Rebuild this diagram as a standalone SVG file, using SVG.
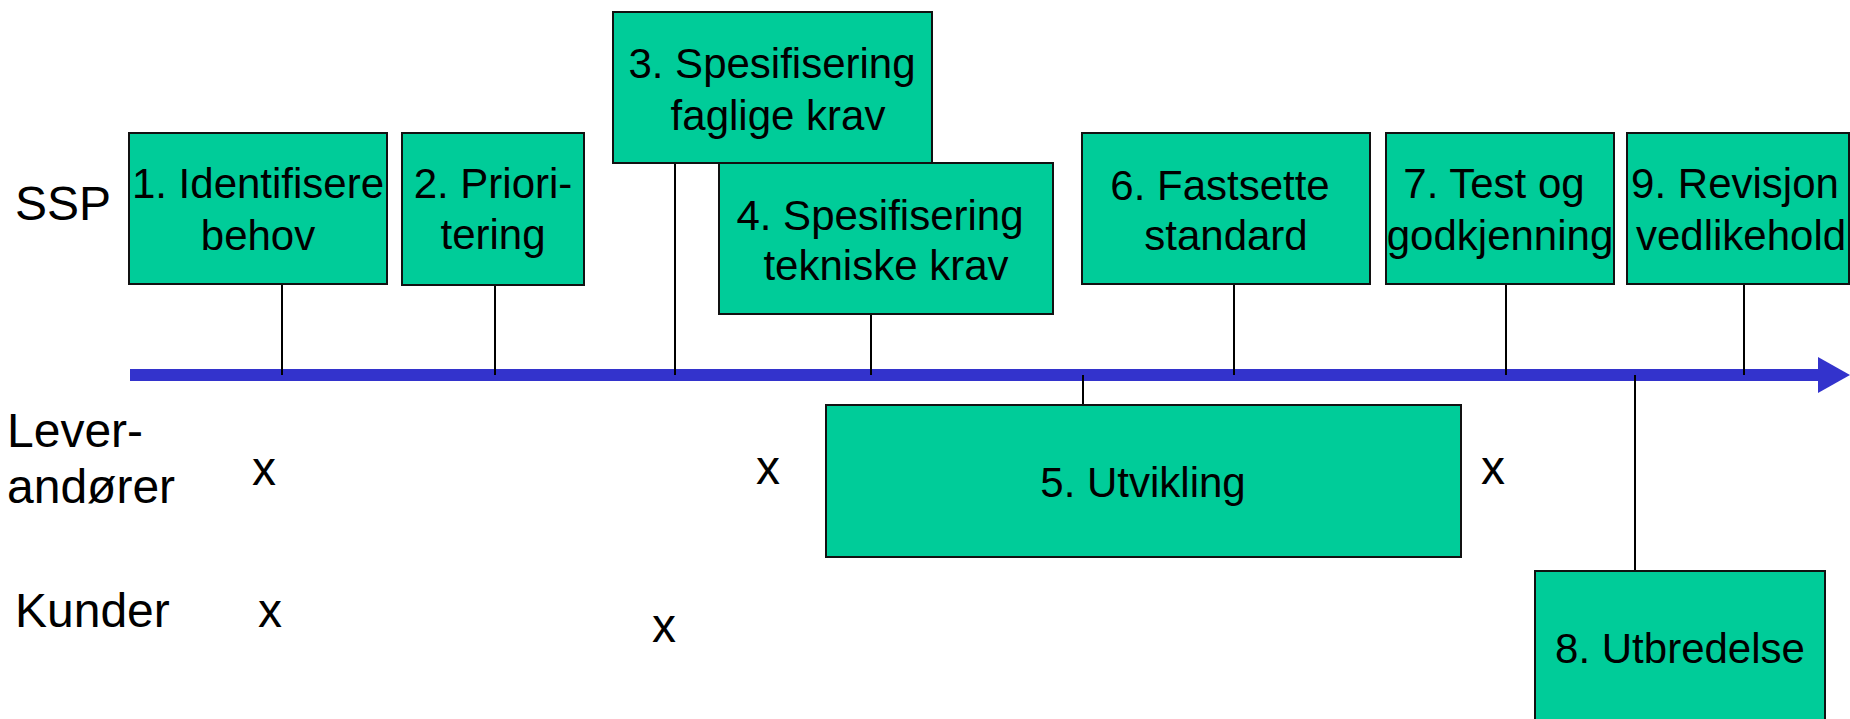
<svg xmlns="http://www.w3.org/2000/svg" width="1850" height="719" viewBox="0 0 1850 719">
<style>
text{font-family:"Liberation Sans",Arial,sans-serif;fill:#000}
.bt{font-size:42px;text-anchor:middle}
.lb{font-size:48px}
.box{fill:#00CC99;stroke:#111;stroke-width:2}
.con{stroke:#000;stroke-width:2;fill:none}
</style>
<rect width="1850" height="719" fill="#fff"/>
<g id="timeline">
<line x1="130" y1="375" x2="1820" y2="375" stroke="#3333CC" stroke-width="12"/>
<polygon points="1818,357 1850,375 1818,393" fill="#3333CC"/>
</g>
<g id="connectors">
<line class="con" x1="282" y1="284" x2="282" y2="375"/>
<line class="con" x1="495" y1="285" x2="495" y2="375"/>
<line class="con" x1="675" y1="163" x2="675" y2="375"/>
<line class="con" x1="871" y1="314" x2="871" y2="375"/>
<line class="con" x1="1083" y1="375" x2="1083" y2="405"/>
<line class="con" x1="1234" y1="284" x2="1234" y2="375"/>
<line class="con" x1="1506" y1="284" x2="1506" y2="375"/>
<line class="con" x1="1635" y1="375" x2="1635" y2="571"/>
<line class="con" x1="1744" y1="284" x2="1744" y2="375"/>
</g>
<g id="labels">
<text class="lb" x="15" y="220">SSP</text>
<text class="lb" x="7" y="447">Lever-</text>
<text class="lb" x="7" y="503">andører</text>
<text class="lb" x="15" y="627">Kunder</text>
</g>
<g id="marks">
<text class="lb" x="252" y="485">x</text>
<text class="lb" x="258" y="627">x</text>
<text class="lb" x="756" y="484">x</text>
<text class="lb" x="652" y="642">x</text>
<text class="lb" x="1481" y="484">x</text>
</g>
<g id="n1">
<rect class="box" x="129" y="133" width="258" height="151"/>
<text class="bt" x="258" y="198">1. Identifisere</text>
<text class="bt" x="258" y="250">behov</text>
</g>
<g id="n2">
<rect class="box" x="402" y="133" width="182" height="152"/>
<text class="bt" x="493" y="198">2. Priori-</text>
<text class="bt" x="493" y="249">tering</text>
</g>
<g id="n3">
<rect class="box" x="613" y="12" width="319" height="151"/>
<text class="bt" x="772" y="78">3. Spesifisering</text>
<text class="bt" x="778" y="130">faglige krav</text>
</g>
<g id="n4">
<rect class="box" x="719" y="163" width="334" height="151"/>
<text class="bt" x="880" y="230">4. Spesifisering</text>
<text class="bt" x="886" y="280">tekniske krav</text>
</g>
<g id="n5">
<rect class="box" x="826" y="405" width="635" height="152"/>
<text class="bt" x="1143" y="497">5. Utvikling</text>
</g>
<g id="n6">
<rect class="box" x="1082" y="133" width="288" height="151"/>
<text class="bt" x="1220" y="200">6. Fastsette</text>
<text class="bt" x="1226" y="250">standard</text>
</g>
<g id="n7">
<rect class="box" x="1386" y="133" width="228" height="151"/>
<text class="bt" x="1494" y="198">7. Test og</text>
<text class="bt" x="1500" y="250">godkjenning</text>
</g>
<g id="n8">
<rect class="box" x="1535" y="571" width="290" height="172"/>
<text class="bt" x="1680" y="663">8. Utbredelse</text>
</g>
<g id="n9">
<rect class="box" x="1627" y="133" width="222" height="151"/>
<text class="bt" x="1735" y="198">9. Revisjon</text>
<text class="bt" x="1741" y="250">vedlikehold</text>
</g>
</svg>
